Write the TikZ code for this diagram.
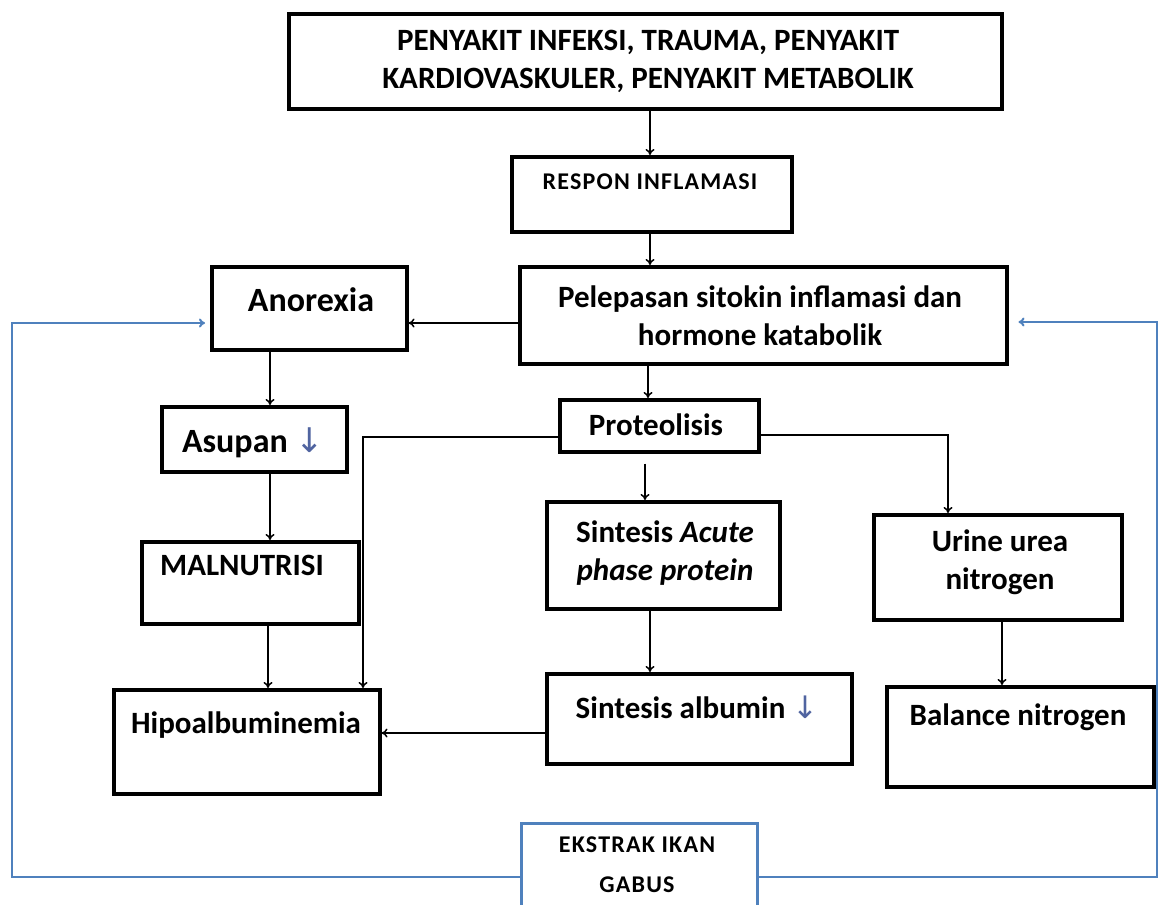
\documentclass[tikz,border=0pt]{standalone}
\usepackage{fontspec}
\setmainfont{Carlito}
\newfontfamily\symfont{DejaVu Sans}
\newfontfamily\trackfont[LetterSpace=5]{Carlito}
\usetikzlibrary{arrows.meta}
\definecolor{officeblue}{RGB}{79,129,189}
\definecolor{arrowblue}{RGB}{80,100,160}
\tikzset{
  box/.style={draw=black, line width=3.5pt, anchor=north west, inner sep=0pt},
  bluebox/.style={draw=officeblue, line width=3pt, anchor=north west, inner sep=0pt},
  txt/.style={font=\bfseries\fontsize{31}{38}\selectfont, align=center, inner sep=0pt},
  bigtxt/.style={font=\bfseries\fontsize{34}{38}\selectfont, align=center, inner sep=0pt},
  smalltxt/.style={font=\trackfont\bfseries\fontsize{24}{40}\selectfont, align=center, inner sep=0pt},
  arr/.style={draw=black, line width=1.5pt, -{To[length=6pt,width=9pt]}},
  barr/.style={draw=officeblue, line width=2pt, -{To[length=6pt,width=9pt]}},
}
\newcommand{\dn}{{\color{arrowblue}\symfont\mdseries\char"2193}}
\begin{document}
\begin{tikzpicture}[x=1pt,y=-1pt]
\useasboundingbox[fill=white] (0,0) rectangle (1163,905);
% boxes
\node[box, minimum width=713pt, minimum height=95pt] (top) at (287,12) {};
\node[txt] (toptxt) at (648,61) {PENYAKIT INFEKSI, TRAUMA, PENYAKIT\\KARDIOVASKULER, PENYAKIT METABOLIK};
\node[box, minimum width=280pt, minimum height=75pt] (respon) at (510,155) {};
\node[smalltxt] (respontxt) at (650,182) {RESPON INFLAMASI};
\node[box, minimum width=487pt, minimum height=97pt] (pel) at (518,265) {};
\node[txt] (peltxt) at (760,316) {Pelepasan sitokin inflamasi dan\\hormone katabolik};
\node[box, minimum width=195pt, minimum height=83pt] (anor) at (210,265) {};
\node[bigtxt] (anortxt) at (311,300) {Anorexia};
\node[box, minimum width=185pt, minimum height=65pt] (asup) at (160,405) {};
\node[bigtxt] (asuptxt) at (253,443) {Asupan \dn};
\node[box, minimum width=217pt, minimum height=82pt] (maln) at (140,540) {};
\node[txt] (malntxt) at (242,565) {MALNUTRISI};
\node[box, minimum width=266pt, minimum height=104pt] (hipo) at (112,688) {};
\node[txt] (hipotxt) at (246,725) {Hipoalbuminemia};
\node[box, minimum width=199pt, minimum height=52pt] (prot) at (558,398) {};
\node[txt] (prottxt) at (656,425) {Proteolisis};
\node[box, minimum width=233pt, minimum height=107pt] (sac) at (545,500) {};
\node[txt] (sactxt) at (665,553) {Sintesis \textit{Acute}\\\textit{phase protein}};
\node[box, minimum width=305pt, minimum height=90pt] (salb) at (545,672) {};
\node[txt] (salbtxt) at (697,707) {Sintesis albumin \dn};
\node[box, minimum width=248pt, minimum height=105pt] (urine) at (872,513) {};
\node[txt] (urinetxt) at (1000,562) {Urine urea\\nitrogen};
\node[box, minimum width=267pt, minimum height=100pt] (bal) at (885,685) {};
\node[txt] (baltxt) at (1018,717) {Balance nitrogen};
\node[bluebox, minimum width=236pt, minimum height=100pt] (eks) at (520,822) {};
\node[smalltxt] (ekstxt) at (637,865) {EKSTRAK IKAN\\GABUS};
% connectors
\draw[arr] (top.south -| 650,0) -- (respon.north -| 650,0);
\draw[arr] (respon.south -| 650,0) -- (pel.north -| 650,0);
\draw[arr] (pel.west |- 0,323) -- (anor.east |- 0,323);
\draw[arr] (pel.south -| 648,0) -- (prot.north -| 648,0);
\draw[arr] (anor.south -| 270,0) -- (asup.north -| 270,0);
\draw[arr] (asup.south -| 270,0) -- (maln.north -| 270,0);
\draw[arr] (maln.south -| 268,0) -- (hipo.north -| 268,0);
\draw[arr] (prot.west |- 0,437) -| (hipo.north -| 363,0);
\draw[arr] (prot.east |- 0,435) -| (urine.north -| 948,0);
\draw[arr, shorten <=10pt] (prot.south -| 645,0) -- (sac.north -| 645,0);
\draw[arr] (sac.south -| 650,0) -- (salb.north -| 650,0);
\draw[arr] (salb.west |- 0,733) -- (hipo.east |- 0,733);
\draw[arr] (urine.south -| 1002,0) -- (bal.north -| 1002,0);
\coordinate (bl) at (12,877);
\coordinate (br) at (1157,877);
\draw[barr, shorten >=5pt] (eks.west |- bl) -- (bl) |- (anor.west |- 0,323);
\draw[barr, shorten >=10pt] (eks.east |- br) -- (br) |- (pel.east |- 0,322);
\end{tikzpicture}
\end{document}
